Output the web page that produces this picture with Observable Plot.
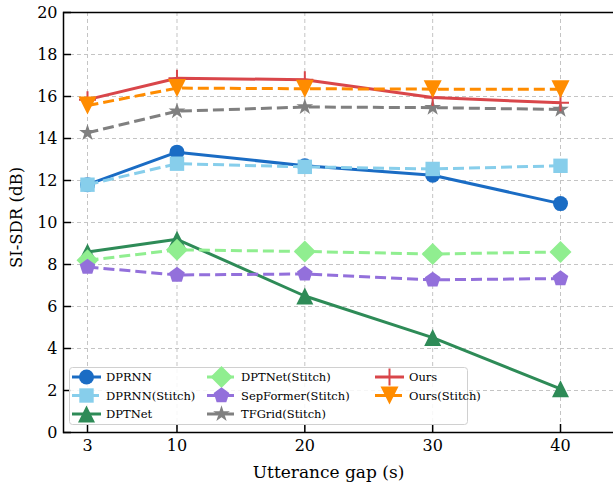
<!DOCTYPE html>
<html>
<head>
<meta charset="utf-8">
<script src="https://cdn.jsdelivr.net/npm/d3@7"></script>
<script src="https://cdn.jsdelivr.net/npm/@observablehq/plot@0.6"></script>
<style>
  html, body { margin: 0; padding: 0; background: #fff; overflow: hidden; }
  #wrap { position: relative; width: 613px; height: 485px; overflow: hidden; }
  #legend { position: absolute; left: 0; top: 0; }
</style>
</head>
<body>
<div id="wrap"></div>
<script>
// ---- data ----
const gaps = [3, 10, 20, 30, 40];
const yTicks = [0, 2, 4, 6, 8, 10, 12, 14, 16, 18, 20];
const seriesNames = ["DPRNN", "DPRNN(Stitch)", "DPTNet", "DPTNet(Stitch)", "SepFormer(Stitch)", "TFGrid(Stitch)", "Ours", "Ours(Stitch)"];
const dprnn        = [11.8, 13.35, 12.7, 12.25, 10.9];
const dprnnStitch  = [11.8, 12.8, 12.65, 12.55, 12.7];
const dptnet       = [8.6, 9.2, 6.5, 4.52, 2.08];
const dptnetStitch = [8.2, 8.7, 8.62, 8.5, 8.6];
const sepStitch    = [7.88, 7.5, 7.55, 7.27, 7.33];
const tfgridStitch = [14.27, 15.3, 15.5, 15.47, 15.38];
const ours         = [15.85, 16.87, 16.8, 15.95, 15.7];
const oursStitch   = [15.57, 16.4, 16.37, 16.35, 16.35];
const values = [dprnn, dprnnStitch, dptnet, dptnetStitch, sepStitch, tfgridStitch, ours, oursStitch];

// ---- styles ----
const colors = ["#1a6cc4", "#87ceeb", "#2e8b57", "#90ee90", "#9370db", "#808080", "#d9464a", "#ff8c00"];
const dashed = [false, true, false, true, true, true, false, true];

// custom marker shapes (pixel sizes)
function poly(ctx, pts) { ctx.moveTo(pts[0][0], pts[0][1]); for (let i = 1; i < pts.length; i++) ctx.lineTo(pts[i][0], pts[i][1]); ctx.closePath(); }
const symCircle   = {draw(ctx) { const r = 7.5; ctx.moveTo(r, 0); ctx.arc(0, 0, r, 0, 2 * Math.PI); ctx.closePath(); }};
const symSquare   = {draw(ctx) { const s = 7.2; poly(ctx, [[-s,-s],[s,-s],[s,s],[-s,s]]); }};
const symTriUp    = {draw(ctx) { const s = 8.5; poly(ctx, [[0,-s],[s,s],[-s,s]]); }};
const symDiamond  = {draw(ctx) { const s = 11; poly(ctx, [[0,-s],[s,0],[0,s],[-s,0]]); }};
const symPentagon = {draw(ctx) { const r = 8.2; const p = []; for (let k = 0; k < 5; k++) { const a = -Math.PI/2 + k * 2*Math.PI/5; p.push([r*Math.cos(a), r*Math.sin(a)]); } poly(ctx, p); }};
const symStar     = {draw(ctx) { const R = 8.8, r = R * 0.381966; const p = []; for (let k = 0; k < 10; k++) { const a = -Math.PI/2 + k * Math.PI/5; const rr = k % 2 ? r : R; p.push([rr*Math.cos(a), rr*Math.sin(a)]); } poly(ctx, p); }};
const symPlus     = {draw(ctx) { const s = 8.5; ctx.moveTo(-s, 0); ctx.lineTo(s, 0); ctx.moveTo(0, -s); ctx.lineTo(0, s); }};
const symTriDown  = {draw(ctx) { const s = 9; poly(ctx, [[-s,-s],[s,-s],[0,s]]); }};
const symbols = [symCircle, symSquare, symTriUp, symDiamond, symPentagon, symStar, symPlus, symTriDown];

// long table
const table = [];
seriesNames.forEach((name, i) => gaps.forEach((g, j) => table.push({series: name, idx: i, gap: g, value: values[i][j]})));

const font = '"DejaVu Serif", "Noto Serif", "Liberation Serif", serif';
const marks = [
  Plot.gridX(gaps, {stroke: "#c4c4c4", strokeOpacity: 1, strokeDasharray: "4,3", strokeWidth: 1}),
  Plot.gridY(yTicks, {stroke: "#c4c4c4", strokeOpacity: 1, strokeDasharray: "4,3", strokeWidth: 1}),
];
seriesNames.forEach((name, i) => {
  const d = table.filter(r => r.idx === i);
  marks.push(Plot.line(d, {x: "gap", y: "value", stroke: colors[i], strokeWidth: 3, strokeDasharray: dashed[i] ? "11,5" : null, strokeLinecap: "butt", strokeLinejoin: "round"}));
  if (symbols[i] === symPlus) {
    marks.push(Plot.dot(d, {x: "gap", y: "value", symbol: symbols[i], r: 5, fill: "none", stroke: colors[i], strokeWidth: 2}));
  } else {
    marks.push(Plot.dot(d, {x: "gap", y: "value", symbol: symbols[i], r: 5, fill: colors[i], stroke: "none"}));
  }
});
marks.push(
  Plot.axisX(gaps, {tickSize: -8, tickPadding: 15, stroke: "#000", strokeWidth: 1.5, fill: "#000", fontSize: 16, label: null}),
  Plot.axisY(yTicks, {tickSize: -8, tickPadding: 14, stroke: "#000", strokeWidth: 1.5, fill: "#000", fontSize: 16, label: null}),
  Plot.frame({stroke: "#000", strokeWidth: 1.5}),
  Plot.text(["SI-SDR (dB)"], {frameAnchor: "left", dx: -46.5, dy: -5, rotate: -90, fontSize: 16.5, fill: "#000", textAnchor: "middle", lineAnchor: "middle"}),
  Plot.text(["Utterance gap (s)"], {frameAnchor: "bottom-left", dx: 265, dy: 40, fontSize: 17, fill: "#000", textAnchor: "middle", lineAnchor: "middle"})
);

const chart = Plot.plot({
  width: 621,
  height: 485,
  marginLeft: 63,
  marginRight: 4,
  marginTop: 12,
  marginBottom: 53,
  style: {fontFamily: font, background: "#fff", overflow: "visible", maxWidth: "none"},
  x: {type: "linear", domain: [3, 40], range: [87, 560]},
  y: {domain: [0, 20], range: [432, 12]},
  marks
});
chart.style.maxWidth = "none";
chart.style.width = "621px";
chart.style.height = "485px";
document.getElementById("wrap").appendChild(chart);

// ---- legend overlay ----
const lg = d3.select("#wrap").append("svg").attr("id", "legend").attr("width", 613).attr("height", 485)
  .style("font-family", font);
lg.append("rect").attr("x", 69.5).attr("y", 367.5).attr("width", 398).attr("height", 57).attr("rx", 3)
  .attr("fill", "#fff").attr("fill-opacity", 0.85).attr("stroke", "#d0d0d0").attr("stroke-width", 1);
const colX = [72, 207, 375];
const rowY = [377, 395.5, 414];
seriesNames.forEach((name, i) => {
  const c = Math.floor(i / 3), r = i % 3;
  const x0 = colX[c], y0 = rowY[r], len = 29;
  const g = lg.append("g");
  g.append("line").attr("x1", x0).attr("x2", x0 + len).attr("y1", y0).attr("y2", y0)
    .attr("stroke", colors[i]).attr("stroke-width", 3)
    .attr("stroke-dasharray", dashed[i] ? "11,5" : null);
  const p = d3.path(); symbols[i].draw(p, 0);
  const m = g.append("path").attr("d", p.toString()).attr("transform", `translate(${x0 + len / 2},${y0})`);
  if (symbols[i] === symPlus) m.attr("fill", "none").attr("stroke", colors[i]).attr("stroke-width", 2);
  else m.attr("fill", colors[i]);
  g.append("text").attr("x", x0 + len + 5).attr("y", y0).attr("dy", "0.35em").attr("font-size", 11.5).attr("fill", "#000").text(name);
});
</script>
</body>
</html>
